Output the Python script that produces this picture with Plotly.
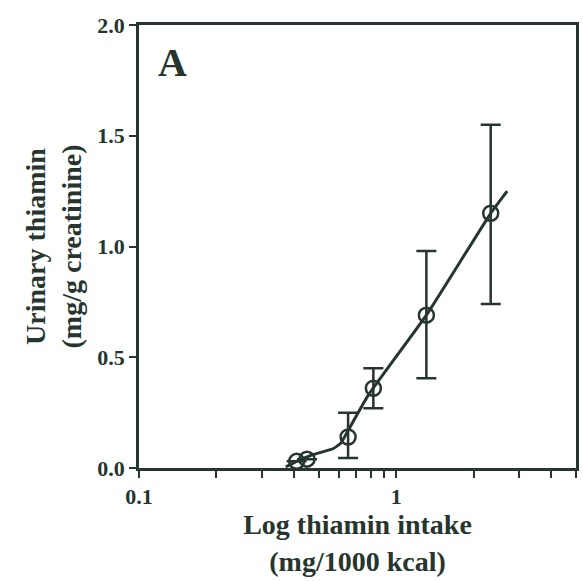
import plotly.graph_objects as go

# Data
intake = [0.41, 0.45, 0.65, 0.815, 1.31, 2.33]
urinary = [0.03, 0.04, 0.14, 0.36, 0.69, 1.15]
err_plus = [0.0, 0.0, 0.11, 0.09, 0.29, 0.40]
err_minus = [0.0, 0.0, 0.095, 0.09, 0.285, 0.41]

fit_x = [0.372, 0.41, 0.45, 0.50, 0.57, 0.61, 0.64, 0.78, 1.31, 2.33, 2.70]
fit_y = [0.005, 0.03, 0.05, 0.068, 0.088, 0.113, 0.155, 0.33, 0.69, 1.15, 1.25]

x_tickvals = [0.1, 0.2, 0.3, 0.4, 0.5, 0.6, 0.7, 0.8, 0.9, 1, 2, 3, 4, 5]
x_ticktext = ["0.1", "", "", "", "", "", "", "", "", "1", "", "", "", ""]
y_tickvals = [0.0, 0.5, 1.0, 1.5, 2.0]
y_ticktext = ["0.0", "0.5", "1.0", "1.5", "2.0"]

ink = "#26352e"
font = "Liberation Serif"


def bold(labels):
    return [f"<b>{t}</b>" if t else "" for t in labels]


fig = go.Figure()
fig.add_trace(go.Scatter(
    x=fit_x, y=fit_y, mode="lines",
    line=dict(color=ink, width=3, shape="spline", smoothing=0.4),
    hoverinfo="skip", showlegend=False,
))
fig.add_trace(go.Scatter(
    x=intake, y=urinary, mode="markers",
    marker=dict(symbol="circle-open", size=15, color=ink, line=dict(width=2.5, color=ink)),
    error_y=dict(type="data", symmetric=False, array=err_plus, arrayminus=err_minus,
                 color=ink, thickness=2.5, width=10),
    showlegend=False,
))

tickfont = dict(family=font, size=22, color=ink)
titlefont = dict(family=font, size=28, color=ink)

fig.update_layout(
    width=583, height=581,
    margin=dict(l=139, r=4, t=25, b=113),
    paper_bgcolor="white", plot_bgcolor="white",
    font=dict(family=font, color=ink, size=20),
    xaxis=dict(
        type="log", range=[-1, 0.699],
        tickvals=x_tickvals, ticktext=bold(x_ticktext),
        ticks="outside", ticklen=7, tickwidth=2, tickcolor=ink,
        showline=True, linecolor=ink, linewidth=2.5, mirror=True,
        showgrid=False, zeroline=False,
        tickfont=tickfont,
        title=dict(text="<b>Log thiamin intake<br>(mg/1000 kcal)</b>",
                   font=titlefont, standoff=4),
    ),
    yaxis=dict(
        range=[0, 2.0],
        tickvals=y_tickvals, ticktext=bold(y_ticktext),
        ticks="outside", ticklen=7, tickwidth=2, tickcolor=ink,
        showline=True, linecolor=ink, linewidth=2.5, mirror=True,
        showgrid=False, zeroline=False,
        tickfont=tickfont,
        title=dict(text="<b>Urinary thiamin<br>(mg/g creatinine)</b>",
                   font=titlefont, standoff=8),
    ),
    annotations=[dict(
        text="<b>A</b>", xref="paper", yref="paper", x=0.04, y=0.915,
        xanchor="left", yanchor="middle", showarrow=False,
        font=dict(family=font, size=40, color=ink),
    )],
)

fig.write_html("out.html")
